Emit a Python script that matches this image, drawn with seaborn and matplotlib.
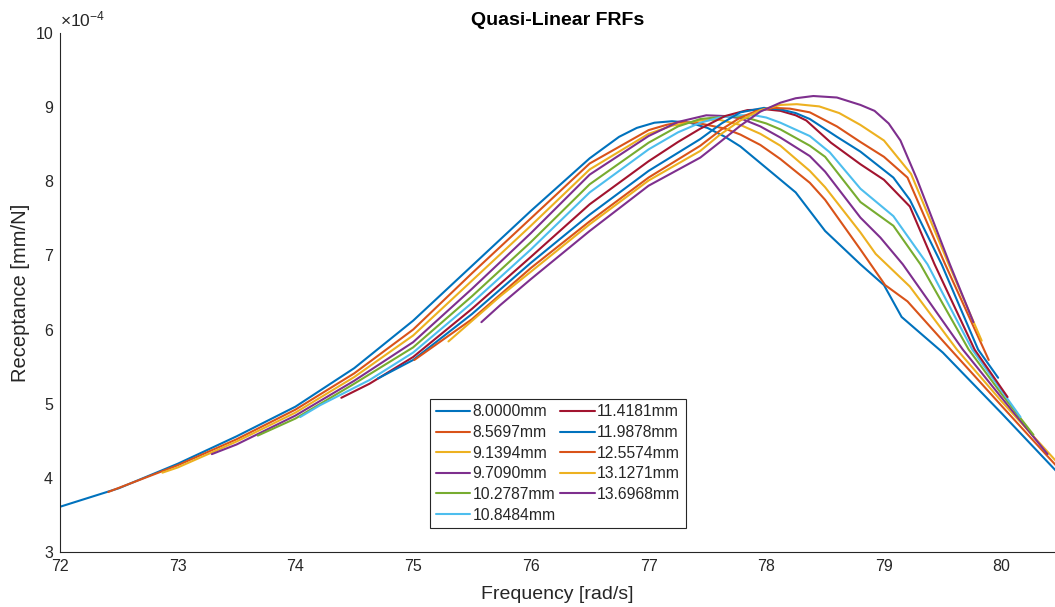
import matplotlib
matplotlib.use("Agg")
import matplotlib.pyplot as plt
from matplotlib.lines import Line2D
import pandas as pd
import seaborn as sns

# ---------------- data (receptance in units of 1e-4 mm/N) ----------------
labels = ["8.0000mm", "8.5697mm", "9.1394mm", "9.7090mm", "10.2787mm", "10.8484mm",
          "11.4181mm", "11.9878mm", "12.5574mm", "13.1271mm", "13.6968mm"]

freq_01 = [72.00, 72.50, 73.00, 73.50, 74.00, 74.50, 75.00, 75.50, 76.00, 76.50, 76.75, 76.90,
           77.05, 77.20, 77.35, 77.50, 77.65, 77.78, 78.00, 78.25, 78.50, 78.80, 79.00, 79.15,
           79.50, 80.00, 80.50]
rec_01 = [3.61, 3.86, 4.19, 4.56, 4.96, 5.48, 6.12, 6.86, 7.60, 8.31, 8.60, 8.72,
          8.79, 8.81, 8.79, 8.72, 8.60, 8.47, 8.18, 7.85, 7.33, 6.88, 6.60, 6.17,
          5.69, 4.87, 4.03]

freq_02 = [72.41, 73.00, 73.50, 74.00, 74.50, 75.00, 75.50, 76.00, 76.50, 77.00, 77.15, 77.27,
           77.40, 77.50, 77.65, 77.78, 77.95, 78.12, 78.37, 78.50, 78.80, 79.01, 79.20, 79.55,
           80.00, 80.50]
rec_02 = [3.81, 4.17, 4.52, 4.92, 5.41, 6.00, 6.76, 7.50, 8.24, 8.69, 8.76, 8.80,
          8.79, 8.76, 8.71, 8.63, 8.49, 8.30, 7.98, 7.75, 7.08, 6.60, 6.38, 5.76,
          4.97, 4.10]

freq_03 = [72.87, 73.00, 73.50, 74.00, 74.50, 75.00, 75.50, 76.00, 76.50, 77.00, 77.20, 77.44,
           77.60, 77.78, 77.95, 78.12, 78.37, 78.50, 78.80, 78.93, 79.22, 79.62, 80.00, 80.50]
rec_03 = [4.07, 4.14, 4.49, 4.88, 5.36, 5.92, 6.66, 7.40, 8.16, 8.64, 8.75, 8.82,
          8.83, 8.76, 8.64, 8.48, 8.14, 7.92, 7.31, 7.02, 6.58, 5.73, 5.03, 4.16]

freq_04 = [73.29, 73.50, 74.00, 74.50, 75.00, 75.50, 76.00, 76.50, 77.00, 77.25, 77.49, 77.65,
           77.78, 77.95, 78.12, 78.37, 78.50, 78.80, 78.97, 79.16, 79.67, 80.00, 80.39]
rec_04 = [4.32, 4.45, 4.84, 5.31, 5.83, 6.55, 7.30, 8.09, 8.61, 8.80, 8.89, 8.88,
          8.85, 8.74, 8.59, 8.34, 8.13, 7.51, 7.24, 6.88, 5.73, 5.08, 4.32]

freq_05 = [73.68, 74.00, 74.50, 75.00, 75.50, 76.00, 76.50, 77.00, 77.25, 77.44, 77.70, 77.85,
           78.00, 78.12, 78.37, 78.50, 78.80, 79.08, 79.31, 79.72, 80.00, 80.27]
rec_05 = [4.57, 4.80, 5.27, 5.76, 6.45, 7.18, 7.96, 8.52, 8.74, 8.84, 8.88, 8.85,
          8.78, 8.70, 8.48, 8.33, 7.72, 7.40, 6.88, 5.73, 5.13, 4.58]

freq_06 = [74.04, 74.21, 74.63, 75.00, 75.50, 76.00, 76.50, 77.00, 77.25, 77.44, 77.60, 77.78,
           77.90, 78.00, 78.12, 78.37, 78.54, 78.80, 79.08, 79.37, 79.75, 80.16]
rec_06 = [4.82, 4.98, 5.32, 5.69, 6.36, 7.08, 7.85, 8.43, 8.66, 8.79, 8.86, 8.89,
          8.89, 8.86, 8.79, 8.61, 8.39, 7.90, 7.53, 6.88, 5.73, 4.82]

freq_07 = [74.39, 74.63, 75.00, 75.50, 76.00, 76.50, 77.00, 77.25, 77.44, 77.65, 77.84, 78.00,
           78.12, 78.25, 78.34, 78.55, 78.80, 79.00, 79.22, 79.43, 79.77, 80.05]
rec_07 = [5.08, 5.27, 5.63, 6.28, 6.98, 7.69, 8.27, 8.53, 8.71, 8.88, 8.96, 8.97,
          8.95, 8.89, 8.82, 8.52, 8.23, 8.02, 7.66, 6.88, 5.73, 5.09]

freq_08 = [74.70, 75.00, 75.50, 76.00, 76.50, 77.00, 77.44, 77.62, 77.78, 77.98, 78.12, 78.25,
           78.37, 78.60, 78.80, 79.08, 79.22, 79.49, 79.80, 79.97]
rec_08 = [5.34, 5.59, 6.21, 6.90, 7.55, 8.14, 8.57, 8.78, 8.93, 8.99, 8.97, 8.92,
          8.84, 8.60, 8.40, 8.05, 7.75, 6.88, 5.73, 5.35]

freq_09 = [75.01, 75.50, 76.00, 76.50, 77.00, 77.44, 77.62, 77.78, 77.92, 78.06, 78.20, 78.37,
           78.60, 78.80, 79.00, 79.20, 79.52, 79.89]
rec_09 = [5.59, 6.14, 6.83, 7.46, 8.05, 8.48, 8.70, 8.86, 8.95, 8.99, 8.98, 8.93,
          8.74, 8.53, 8.33, 8.05, 6.88, 5.59]

freq_10 = [75.30, 75.74, 76.00, 76.50, 77.00, 77.44, 77.60, 77.78, 77.95, 78.12, 78.26, 78.45,
           78.62, 78.80, 79.00, 79.23, 79.55, 79.83]
rec_10 = [5.84, 6.45, 6.78, 7.42, 8.01, 8.41, 8.62, 8.82, 8.96, 9.03, 9.04, 9.01,
          8.92, 8.76, 8.55, 8.10, 6.88, 5.85]

freq_11 = [75.58, 75.74, 76.00, 76.50, 77.00, 77.44, 77.60, 77.78, 77.95, 78.12, 78.25, 78.40,
           78.60, 78.80, 78.92, 79.04, 79.14, 79.28, 79.56, 79.76]
rec_11 = [6.10, 6.33, 6.68, 7.33, 7.94, 8.32, 8.52, 8.75, 8.94, 9.06, 9.12, 9.15,
          9.13, 9.03, 8.95, 8.78, 8.55, 8.03, 6.88, 6.10]

freqs = [freq_01, freq_02, freq_03, freq_04, freq_05, freq_06, freq_07, freq_08, freq_09, freq_10, freq_11]
recs = [rec_01, rec_02, rec_03, rec_04, rec_05, rec_06, rec_07, rec_08, rec_09, rec_10, rec_11]

colors = ["#0072BD", "#D95319", "#EDB120", "#7E2F8E", "#77AC30", "#4DBEEE",
          "#A2142F", "#0072BD", "#D95319", "#EDB120", "#7E2F8E"]

x_ticks = [72, 73, 74, 75, 76, 77, 78, 79, 80]
y_ticks = [3, 4, 5, 6, 7, 8, 9, 10]

# ---------------- build long dataframe ----------------
rows = []
for lab, fx, ry in zip(labels, freqs, recs):
    for i, (f, r) in enumerate(zip(fx, ry)):
        rows.append({"label": lab, "freq": f, "rec": r, "order": i})
df = pd.DataFrame(rows)

# ---------------- style ----------------
sns.set_style("white")
plt.rcParams["font.family"] = ["Liberation Sans", "DejaVu Sans"]
plt.rcParams["mathtext.fontset"] = "custom"
plt.rcParams["mathtext.rm"] = "Liberation Sans"
plt.rcParams["mathtext.it"] = "Liberation Sans"

axis_col = "#262626"

fig = plt.figure(figsize=(10.55, 6.07), dpi=100)
ax = fig.add_axes([60 / 1055, 55 / 607, 995 / 1055, 519 / 607])

palette = dict(zip(labels, colors))
sns.lineplot(data=df, x="freq", y="rec", hue="label", hue_order=labels,
             palette=palette, sort=False, estimator=None, units="label",
             linewidth=1.5, legend=False, ax=ax)

ax.set_xlim(72, 80.453)
ax.set_ylim(3, 10)
ax.set_xticks(x_ticks)
ax.set_yticks(y_ticks)
ax.set_xticklabels([str(t) for t in x_ticks])
ax.set_yticklabels([str(t) for t in y_ticks])

for s in ["top", "right"]:
    ax.spines[s].set_visible(False)
for s in ["left", "bottom"]:
    ax.spines[s].set_color(axis_col)
    ax.spines[s].set_linewidth(0.8)

ax.tick_params(direction="in", length=7, width=0.8, colors=axis_col,
               labelsize=11.5, pad=5)

ax.set_xlabel("Frequency [rad/s]", fontsize=14, color=axis_col, labelpad=9)
ax.set_ylabel("Receptance [mm/N]", fontsize=14.5, color=axis_col, labelpad=4)
ax.set_title("Quasi-Linear FRFs", fontsize=14, fontweight="bold", color="black", pad=6)

ax.text(0.0, 1.006, r"$\times10^{-4}$", transform=ax.transAxes, ha="left", va="bottom",
        fontsize=12.5, color=axis_col)

handles = [Line2D([0], [0], color=c, lw=1.5) for c in colors]
leg = ax.legend(handles, labels, ncol=2, loc="lower left",
                bbox_to_anchor=(0.372, 0.046), fontsize=11.3, frameon=True,
                fancybox=False, edgecolor=axis_col, framealpha=1,
                handlelength=2.2, handletextpad=0.15, columnspacing=0.3,
                labelspacing=0.36, borderpad=0.35, borderaxespad=0)
leg.get_frame().set_linewidth(0.8)

fig.savefig("out.png", dpi=100)
